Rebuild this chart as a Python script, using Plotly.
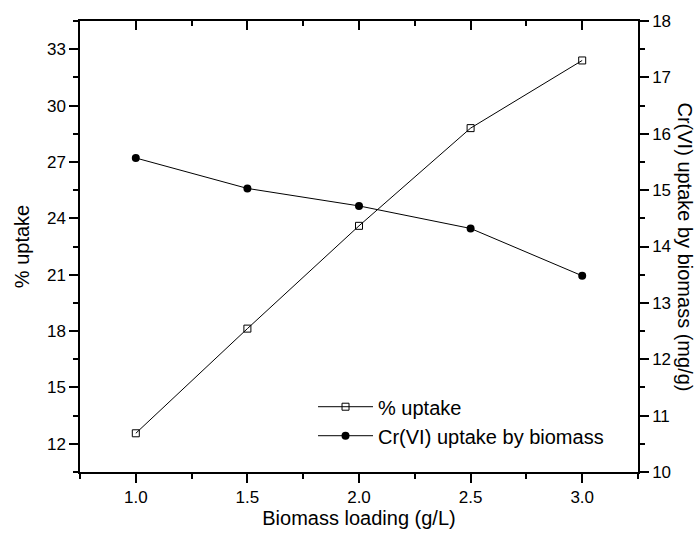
import plotly.graph_objects as go

loading = [1.0, 1.5, 2.0, 2.5, 3.0]
pct_uptake = [12.56, 18.13, 23.6, 28.8, 32.4]
cr_uptake = [15.57, 15.03, 14.72, 14.32, 13.48]

FONT = "Liberation Sans, Arial, sans-serif"
TICK = 17
TITLE = 20

fig = go.Figure()
fig.add_trace(go.Scatter(
    x=loading, y=pct_uptake, name="% uptake", mode="lines+markers",
    line=dict(color="black", width=1),
    marker=dict(symbol="square-open", size=7, color="black", line=dict(width=1)),
    yaxis="y", xaxis="x"))
fig.add_trace(go.Scatter(
    x=loading, y=cr_uptake, name="Cr(VI) uptake by biomass", mode="lines+markers",
    line=dict(color="black", width=1),
    marker=dict(symbol="circle", size=8, color="black"),
    yaxis="y2", xaxis="x"))

axis_common = dict(showline=True, linecolor="black", linewidth=1.5, showgrid=False,
                   zeroline=False, tickcolor="black", tickwidth=1.5,
                   tickfont=dict(family=FONT, size=TICK, color="black"))

fig.update_layout(
    width=699, height=540,
    margin=dict(l=80, r=61, t=17, b=68),
    paper_bgcolor="white", plot_bgcolor="white",
    font=dict(family=FONT, color="black"),
    xaxis=dict(range=[0.75, 3.25], tick0=1.0, dtick=0.5, tickformat=".1f",
               ticks="outside", ticklen=9,
               minor=dict(ticks="outside", ticklen=5, dtick=0.25, tick0=0.75,
                          tickcolor="black", tickwidth=1.5),
               title=dict(text="Biomass loading (g/L)", font=dict(family=FONT, size=TITLE), standoff=3),
               **axis_common),
    xaxis2=dict(range=[0.75, 3.25], overlaying="x", side="top", tick0=1.0, dtick=0.5,
                ticks="inside", ticklen=9, showticklabels=False,
                minor=dict(ticks="inside", ticklen=5, dtick=0.25, tick0=0.75,
                           tickcolor="black", tickwidth=1.5),
                **{k: v for k, v in axis_common.items() if k != "tickfont"}),
    yaxis=dict(range=[10.5, 34.5], tick0=12, dtick=3, ticks="outside", ticklen=9,
               minor=dict(ticks="outside", ticklen=5, dtick=1.5, tick0=10.5,
                          tickcolor="black", tickwidth=1.5),
               title=dict(text="% uptake", font=dict(family=FONT, size=TITLE), standoff=12),
               **axis_common),
    yaxis2=dict(range=[10, 18], overlaying="y", side="right", tick0=10, dtick=1,
                ticks="outside", ticklen=9,
                minor=dict(ticks="outside", ticklen=5, dtick=0.5, tick0=10,
                           tickcolor="black", tickwidth=1.5),
                **axis_common),
    legend=dict(x=0.4176, y=0.188, xanchor="left", yanchor="top",
                bgcolor="rgba(0,0,0,0)", font=dict(family=FONT, size=TITLE, color="black"),
                tracegroupgap=0, itemwidth=55),
    showlegend=True,
    annotations=[dict(text="Cr(VI) uptake by biomass (mg/g)", textangle=90,
                      xref="paper", yref="paper", x=1.0, y=0.5, xshift=47,
                      xanchor="center", yanchor="middle", showarrow=False,
                      font=dict(family=FONT, size=TITLE, color="black"))],
)
# dummy trace to activate top axis
fig.add_trace(go.Scatter(x=[None], y=[None], xaxis="x2", showlegend=False))

fig.write_html("out.html")
